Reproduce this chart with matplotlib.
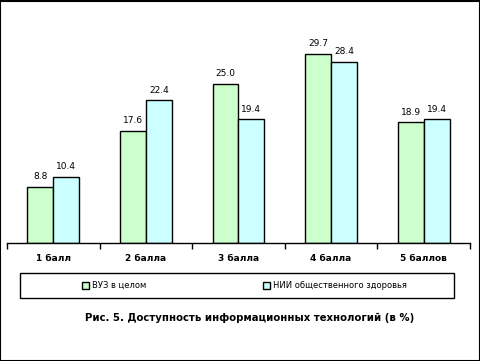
# -*- coding: utf-8 -*-
"""
Bar chart: availability of information technologies (in %)
"""
import numpy as np
import matplotlib.pyplot as plt
from matplotlib.patches import Rectangle

# data
categories = ["1 балл", "2 балла", "3 балла", "4 балла", "5 баллов"]
vuz = [8.8, 17.6, 25.0, 29.7, 18.9]
nii = [10.4, 22.4, 19.4, 28.4, 19.4]
series_names = ["ВУЗ в целом", "НИИ общественного здоровья"]
title = "Рис. 5. Доступность информационных технологий (в %)"

fig = plt.figure(figsize=(4.81, 3.61), dpi=100)
ax = fig.add_axes([0.0146, 0.327, 0.9624, 0.618])

x = np.arange(len(categories))
w = 0.28
b1 = ax.bar(x - w / 2, vuz, w, color="#CCFFCC", edgecolor="black", linewidth=1, label=series_names[0])
b2 = ax.bar(x + w / 2, nii, w, color="#CCFFFF", edgecolor="black", linewidth=1, label=series_names[1])

# value labels above bars
for bars, vals in [(b1, vuz), (b2, nii)]:
    for r, v in zip(bars, vals):
        ax.annotate("%.1f" % v, (r.get_x() + r.get_width() / 2, v),
                    xytext=(0, 4), textcoords="offset points",
                    ha="center", va="bottom", fontsize=6.5)

ax.set_xlim(-0.5, len(categories) - 0.5)
ax.set_ylim(0, 35)
ax.set_yticks([])
for s in ["left", "top", "right"]:
    ax.spines[s].set_visible(False)
ax.spines["bottom"].set_linewidth(1)

# category labels centred, tick marks at the group borders
ax.set_xticks(x)
ax.set_xticklabels(categories, fontsize=6.5, fontweight="bold")
ax.tick_params(axis="x", which="major", length=0, pad=8)
ax.set_xticks(np.arange(-0.5, len(categories)), minor=True)
ax.tick_params(axis="x", which="minor", length=4, width=1, direction="out")

# legend (no frame of its own) and a wide box around it
leg = fig.legend(handles=[b1, b2], labels=series_names, ncol=2,
                 loc="center", bbox_to_anchor=(0.508, 0.209),
                 fontsize=6, frameon=False,
                 handlelength=0.9, handleheight=0.9,
                 handletextpad=0.3, columnspacing=14)
fig.patches.append(Rectangle((20 / 481, 0.1745), 434 / 481, 0.0693, transform=fig.transFigure,
                             fill=False, edgecolor="black", linewidth=1))

fig.text(0.52, 0.118, title, ha="center", va="center", fontsize=7.3, fontweight="bold")

# outer frame of the picture
fig.patches.append(Rectangle((0.001, 0.001), 0.997, 0.997, transform=fig.transFigure,
                             fill=False, edgecolor="black", linewidth=1.5))

fig.savefig("out.png", dpi=100)
